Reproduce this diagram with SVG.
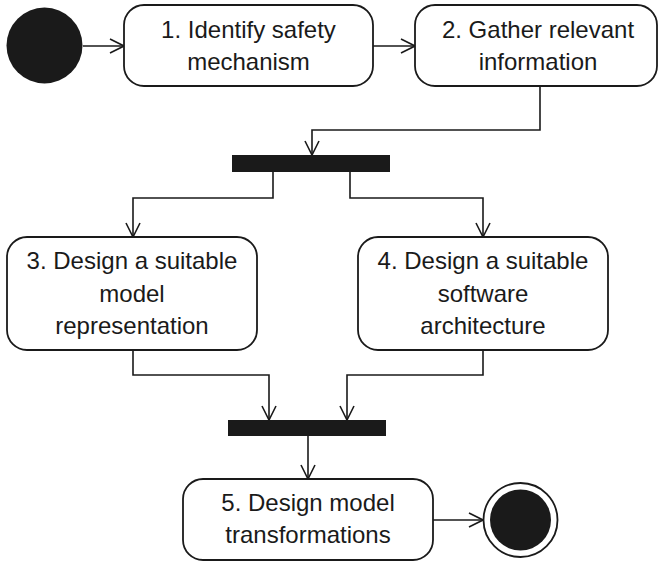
<svg xmlns="http://www.w3.org/2000/svg" width="660" height="562" viewBox="0 0 660 562">
  <defs>
    <marker id="open" viewBox="0 0 16 16" refX="15" refY="8" markerWidth="16" markerHeight="16" markerUnits="userSpaceOnUse" orient="auto">
      <path d="M1,1 L15,8 L1,15" fill="none" stroke="#1a1a1a" stroke-width="1.6"/>
    </marker>
  </defs>
  <style>
    .act { fill: #ffffff; stroke: #1a1a1a; stroke-width: 1.8; }
    .bar { fill: #1a1a1a; }
    .dot { fill: #1a1a1a; }
    .ring { fill: #ffffff; stroke: #1a1a1a; stroke-width: 1.8; }
    .flow { fill: none; stroke: #1a1a1a; stroke-width: 1.6; marker-end: url(#open); }
    text { font-family: "Liberation Sans", Arial, sans-serif; font-size: 24px; fill: #1a1a1a; text-anchor: middle; }
  </style>
  <rect width="660" height="562" fill="#ffffff"/>

  <g id="connectors">
    <path class="flow" d="M83,46 L124,46"/>
    <path class="flow" d="M373,46 L415,46"/>
    <path class="flow" d="M540,86 L540,130 L312,130 L312,155"/>
    <path class="flow" d="M273,172 L273,198 L133,198 L133,237"/>
    <path class="flow" d="M350,172 L350,198 L483,198 L483,237"/>
    <path class="flow" d="M133,350 L133,375 L269,375 L269,420"/>
    <path class="flow" d="M483,350 L483,375 L347,375 L347,420"/>
    <path class="flow" d="M308,436 L308,479"/>
    <path class="flow" d="M433,520 L483,520"/>
  </g>

  <g id="start">
    <circle class="dot" cx="44.5" cy="45.5" r="38"/>
  </g>

  <g id="step1">
    <rect class="act" x="124" y="5" width="249" height="81" rx="20" ry="20"/>
    <text x="248.5" y="38">1. Identify safety</text>
    <text x="248.5" y="70">mechanism</text>
  </g>

  <g id="step2">
    <rect class="act" x="415" y="5" width="242" height="81" rx="20" ry="20"/>
    <text x="538" y="38">2. Gather relevant</text>
    <text x="538" y="70">information</text>
  </g>

  <g id="fork">
    <rect class="bar" x="232" y="155" width="158" height="17"/>
  </g>

  <g id="step3">
    <rect class="act" x="7" y="237" width="250" height="113" rx="20" ry="20"/>
    <text x="132" y="269">3. Design a suitable</text>
    <text x="132" y="302">model</text>
    <text x="132" y="334">representation</text>
  </g>

  <g id="step4">
    <rect class="act" x="358" y="237" width="250" height="113" rx="20" ry="20"/>
    <text x="483" y="269">4. Design a suitable</text>
    <text x="483" y="302">software</text>
    <text x="483" y="334">architecture</text>
  </g>

  <g id="join">
    <rect class="bar" x="228" y="420" width="158" height="16"/>
  </g>

  <g id="step5">
    <rect class="act" x="183" y="479" width="250" height="81" rx="20" ry="20"/>
    <text x="308" y="511">5. Design model</text>
    <text x="308" y="543">transformations</text>
  </g>

  <g id="end">
    <circle class="ring" cx="520.5" cy="520" r="37"/>
    <circle class="dot" cx="520.5" cy="520" r="30.5"/>
  </g>
</svg>
